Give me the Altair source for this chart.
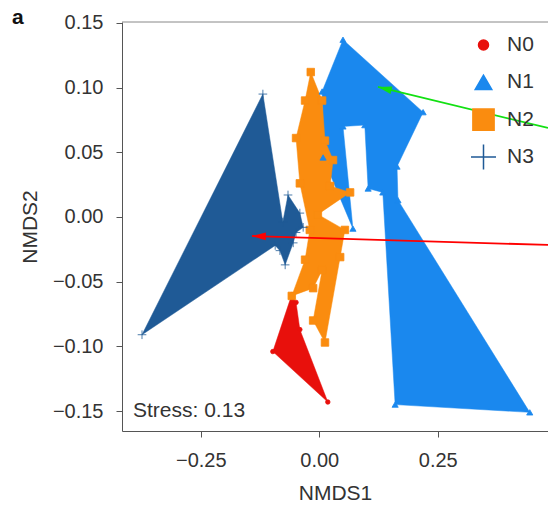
import altair as alt
import pandas as pd

FONT = "Liberation Sans"
TEXT = "#333333"

groups = ["N0", "N1", "N2", "N3"]
group_colors = ["#e8100c", "#1a88ee", "#fa8c0f", "#1f5a96"]
group_shapes = ["circle", "triangle-up", "square", "M-1,0L1,0M0,-1L0,1"]

# NMDS site scores, listed in the order the group outlines are traced
n0_x = [-0.058, -0.049, -0.041, 0.018, -0.098]
n0_y = [-0.060, -0.066, -0.087, -0.143, -0.104]

n1_x = [0.050, 0.219, 0.164, 0.166, 0.444, 0.160, 0.134, 0.103, 0.096, 0.050, 0.071, 0.008, 0.006]
n1_y = [0.137, 0.081, 0.039, 0.013, -0.151, -0.145, 0.019, 0.022, 0.071, 0.070, -0.009, 0.046, 0.097]

n2_x = [-0.018, 0.006, 0.012, 0.029, 0.023, 0.065, -0.003, 0.054, 0.044, 0.012,
        -0.013, 0.006, -0.013, -0.058, -0.030, -0.020, -0.041, -0.049, -0.030]
n2_y = [0.112, 0.090, 0.059, 0.044, 0.024, 0.019, 0.002, -0.010, -0.031, -0.097,
        -0.080, -0.041, -0.055, -0.061, -0.033, -0.010, 0.026, 0.061, 0.090]

n3_x = [-0.119, -0.077, -0.066, -0.041, -0.034, -0.049, -0.055, -0.072, -0.083, -0.093, -0.374]
n3_y = [0.095, -0.004, 0.017, 0.003, -0.008, -0.012, -0.020, -0.037, -0.026, -0.022, -0.091]

stress_label = "Stress: 0.13"

# annotation arrows (tail -> head, in NMDS units) and head rotation in degrees
arrow_x0 = [0.4825, 0.4825]
arrow_y0 = [0.0688, -0.0216]
arrow_x1 = [0.1238, -0.1420]
arrow_y1 = [0.1005, -0.0147]
arrow_angle = [283.6, 271.7]
arrow_color = ["#12e012", "#ff0000"]

rows = []
for g, xs, ys in [("N0", n0_x, n0_y), ("N1", n1_x, n1_y), ("N2", n2_x, n2_y), ("N3", n3_x, n3_y)]:
    for i, (x, y) in enumerate(zip(xs, ys)):
        rows.append({"group": g, "NMDS1": x, "NMDS2": y, "idx": i})
scores = pd.DataFrame(rows)

arrows = pd.DataFrame({
    "x0": arrow_x0, "y0": arrow_y0, "x1": arrow_x1, "y1": arrow_y1,
    "angle": arrow_angle, "col": arrow_color,
})

key = pd.DataFrame({"group": groups})

W, H = 426, 409

x_scale = alt.Scale(domain=[-0.4162, 0.4825], nice=False, zero=False)
y_scale = alt.Scale(domain=[-0.1654, 0.1507], nice=False, zero=False)
color_scale = alt.Scale(domain=groups, range=group_colors)
shape_scale = alt.Scale(domain=groups, range=group_shapes)

x_enc = alt.X("NMDS1:Q", scale=x_scale, axis=alt.Axis(
    values=[-0.25, 0, 0.25], format=".2f", title="NMDS1"))
y_enc = alt.Y("NMDS2:Q", scale=y_scale, axis=alt.Axis(
    values=[-0.15, -0.10, -0.05, 0, 0.05, 0.10, 0.15], format=".2f", title="NMDS2"))

base = alt.Chart(scores)

outlines = base.mark_line(interpolate="linear-closed", strokeWidth=0.5, opacity=1).encode(
    x=x_enc, y=y_enc,
    fill=alt.Fill("group:N", scale=color_scale, legend=None),
    stroke=alt.Stroke("group:N", scale=color_scale, legend=None),
    order=alt.Order("idx:Q"),
)

points = base.mark_point(opacity=1, strokeWidth=0.8).encode(
    x="NMDS1:Q", y="NMDS2:Q",
    fill=alt.Fill("group:N", scale=color_scale, legend=None),
    stroke=alt.Stroke("group:N", scale=color_scale, legend=None),
    shape=alt.Shape("group:N", scale=shape_scale, legend=None),
    size=alt.Size("group:N", scale=alt.Scale(domain=groups, range=[20, 75, 50, 150]), legend=None),
)

frame_top = alt.Chart(pd.DataFrame({"k": [0]})).mark_rule(color="#888888", strokeWidth=1).encode(
    x=alt.value(0), x2=alt.value(W), y=alt.value(0))

stress = alt.Chart(pd.DataFrame({"label": [stress_label]})).mark_text(
    align="left", baseline="alphabetic", font=FONT, fontSize=21, color=TEXT
).encode(x=alt.value(11), y=alt.value(395), text="label:N")

panel = alt.Chart(pd.DataFrame({"label": ["a"]})).mark_text(
    align="left", baseline="alphabetic", font=FONT, fontSize=21, fontWeight="bold", color="#111111"
).encode(x=alt.value(-110), y=alt.value(2), text="label:N")

arrow_lines = alt.Chart(arrows).mark_rule(strokeWidth=1.8).encode(
    x=alt.X("x0:Q", scale=x_scale), y=alt.Y("y0:Q", scale=y_scale), x2="x1:Q", y2="y1:Q",
    color=alt.Color("col:N", scale=None),
)

arrow_heads = alt.Chart(arrows).mark_point(
    shape="M0,0L0.45,1.6L-0.45,1.6Z", filled=True, size=300, opacity=1
).encode(
    x=alt.X("x1:Q", scale=x_scale), y=alt.Y("y1:Q", scale=y_scale),
    angle=alt.Angle("angle:Q", scale=None),
    color=alt.Color("col:N", scale=None),
)

plot = alt.layer(outlines, points, frame_top, stress, panel, arrow_lines, arrow_heads)

# key in the upper right corner of the panel
key_y = alt.Y("group:N", scale=alt.Scale(domain=groups, range=[23, 135], padding=0), axis=None)
key_symbols = alt.Chart(key).mark_point(opacity=1, strokeWidth=1.5).encode(
    x=alt.value(361.5), y=key_y,
    fill=alt.Fill("group:N", scale=color_scale, legend=None),
    stroke=alt.Stroke("group:N", scale=color_scale, legend=None),
    shape=alt.Shape("group:N", scale=shape_scale, legend=None),
    size=alt.Size("group:N", scale=alt.Scale(domain=groups, range=[100, 625, 441, 841]), legend=None),
)
key_labels = alt.Chart(key).mark_text(
    align="left", baseline="middle", font=FONT, fontSize=21, color=TEXT
).encode(x=alt.value(385), y=key_y, text="group:N")

chart = alt.layer(plot, key_symbols, key_labels).resolve_scale(
    y="independent", size="independent"
).properties(
    width=W, height=H,
    autosize=alt.AutoSizeParams(type="none"),
    padding={"left": 122, "top": 22, "right": 0, "bottom": 77},
).configure_view(
    stroke=None
).configure_axis(
    grid=False, labelFont=FONT, titleFont=FONT, labelFontSize=20, titleFontSize=21,
    labelColor=TEXT, titleColor=TEXT, titleFontWeight="normal",
    domainColor="#555555", tickColor="#555555", tickSize=6,
    labelPadding=13, titlePadding=12,
)

chart.save("out.html", embed_options={"renderer": "svg", "actions": False})
